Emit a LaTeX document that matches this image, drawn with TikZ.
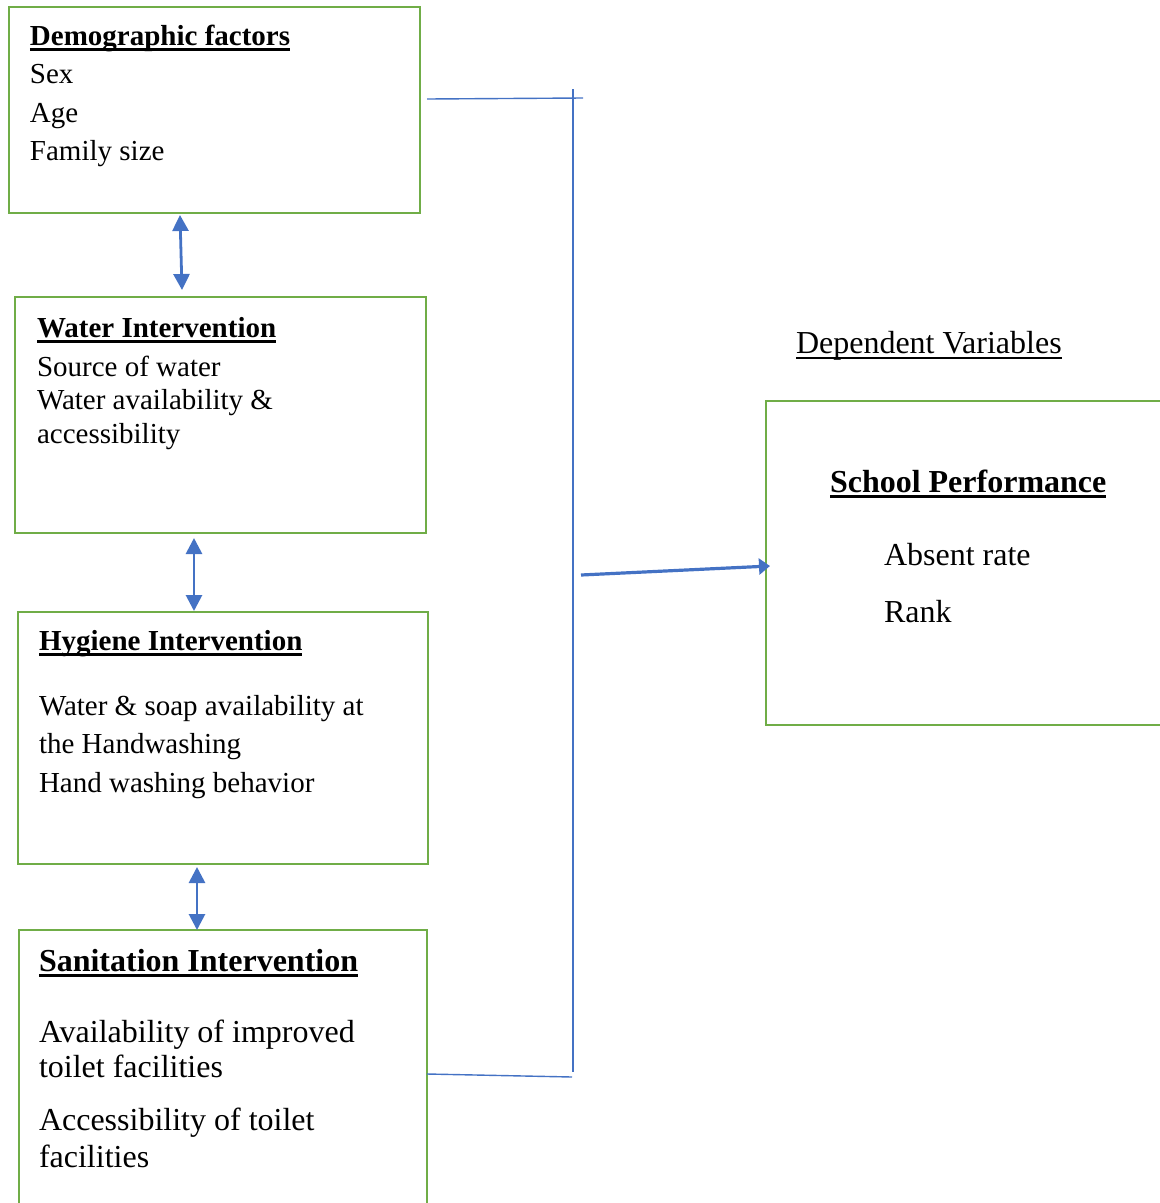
\documentclass[tikz,border=0pt]{standalone}
\usepackage{fontspec}
\setmainfont{Liberation Serif}
\usetikzlibrary{arrows.meta,calc}
\definecolor{boxgreen}{HTML}{70AD47}
\definecolor{lineblue}{HTML}{4472C4}
\newcommand\myul[3]{\setbox0\hbox{#1}\rlap{\rule[-#2]{\wd0}{#3}}\box0}
\tikzset{
  box/.style={draw=boxgreen, line width=2.8pt, anchor=north west, inner sep=0pt, outer sep=0pt},
  txt/.style={anchor=base west, inner sep=0pt, outer sep=0pt, font=\fontsize{29}{34}\selectfont},
  txtbig/.style={anchor=base west, inner sep=0pt, outer sep=0pt, font=\fontsize{32}{38}\selectfont},
  dbl/.style={draw=lineblue, line width=2.8pt, {Triangle[width=16pt,length=16pt]}-{Triangle[width=16pt,length=16pt]}},
  thin/.style={draw=lineblue, line width=1.4pt},
  mainarrow/.style={draw=lineblue, line width=3.2pt, -{Triangle[width=16pt,length=11pt]}}
}
\begin{document}
\begin{tikzpicture}[x=1pt,y=-1pt]
\useasboundingbox (0,0) rectangle (1160,1203);
% boxes
\node[box, minimum width=411pt, minimum height=206pt] (b1) at (9,7) {};
\node[box, minimum width=411pt, minimum height=236pt] (b2) at (15,297) {};
\node[box, minimum width=410pt, minimum height=252pt] (b3) at (18,612) {};
\node[box, minimum width=408pt, minimum height=320pt] (b4) at (19,930) {};
\node[box, minimum width=440pt, minimum height=324pt] (b5) at (766,401) {};
% box 1 text
\node[txt] (t1h) at (30,45) {\myul{\textbf{Demographic factors}}{6pt}{3pt}};
\node[txt] (t1a) at (30,83) {Sex};
\node[txt] (t1b) at (30,122) {Age};
\node[txt] (t1c) at (30,160) {Family size};
% box 2 text
\node[txt] (t2h) at (37,337) {\myul{\textbf{Water Intervention}}{6pt}{3pt}};
\node[txt] (t2a) at (37,376) {Source of water};
\node[txt] (t2b) at (37,409) {Water availability \&};
\node[txt] (t2c) at (37,443) {accessibility};
% box 3 text
\node[txt] (t3h) at (39,650) {\myul{\textbf{Hygiene Intervention}}{6pt}{3pt}};
\node[txt] (t3a) at (39,715) {Water \& soap availability at};
\node[txt] (t3b) at (39,753) {the Handwashing};
\node[txt] (t3c) at (39,792) {Hand washing behavior};
% box 4 text
\node[txtbig] (t4h) at (39,971) {\myul{\textbf{Sanitation Intervention}}{6pt}{3pt}};
\node[txtbig] (t4a) at (39,1042) {Availability of improved};
\node[txtbig] (t4b) at (39,1077) {toilet facilities};
\node[txtbig] (t4c) at (39,1130) {Accessibility of toilet};
\node[txtbig] (t4d) at (39,1167) {facilities};
% box 5 text
\node[txtbig] (dv) at (796,353) {\myul{Dependent Variables}{6pt}{2pt}};
\node[txtbig] (t5h) at (830,492) {\myul{\textbf{School Performance}}{6pt}{3pt}};
\node[txtbig] (t5a) at (884,565) {Absent rate};
\node[txtbig] (t5b) at (884,622) {Rank};
% double arrows between boxes
\draw[dbl] ($(b1.south west)+(171,2)$) -- ($(b2.north west)+(167,-7)$);
\draw[dbl] ($(b2.south west)+(179,5)$) -- ($(b3.north west)+(176,-1)$);
\draw[dbl] ($(b3.south west)+(179,3)$) -- ($(b4.north west)+(178,0)$);
% bracket
\coordinate (brT) at (583,98);
\coordinate (brV1) at (573,89);
\coordinate (brV2) at (573,1072);
\coordinate (brB) at (572,1077);
\coordinate (arS) at (581,575);
\draw[thin] ($(b1.north east)+(7,92)$) -- (brT);
\draw[thin] (brV1) -- (brV2);
\draw[thin] ($(b4.north west)+(408,144)$) -- (brB);
\draw[mainarrow] (arS) -- ($(b5.north west)+(4,165)$);
\end{tikzpicture}
\end{document}
